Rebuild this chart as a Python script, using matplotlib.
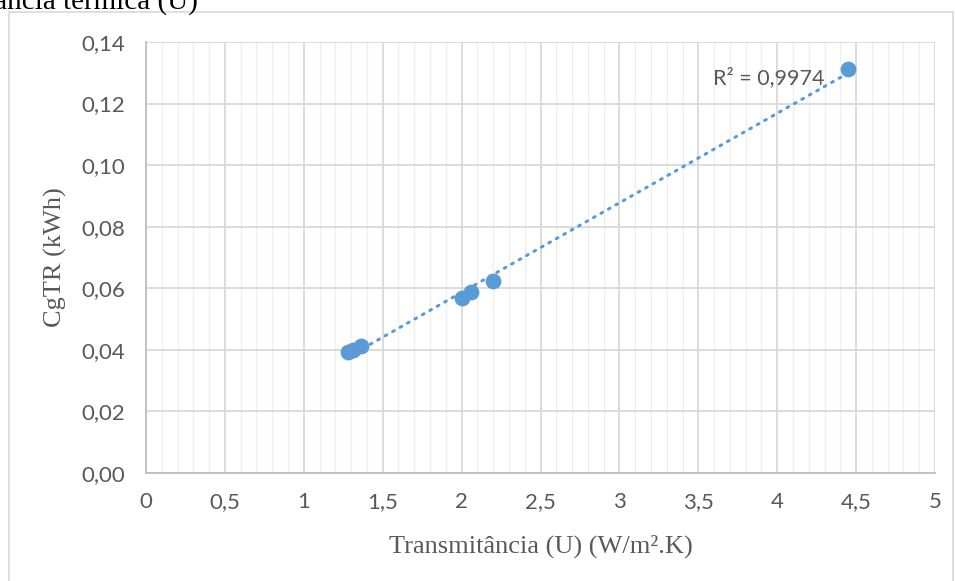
import matplotlib.pyplot as plt
from matplotlib.patches import Rectangle
from matplotlib.ticker import MultipleLocator, FuncFormatter
import numpy as np

# transmitância (U) x CgTR
u_values = [1.28, 1.31, 1.36, 2.00, 2.06, 2.20, 4.45]
cgtr_values = [0.0392, 0.0400, 0.0413, 0.0568, 0.0588, 0.0624, 0.1313]
r2_label = "R² = 0,9974"

blue = "#5b9bd5"
tick_grey = "#595959"

fig = plt.figure(figsize=(9.55, 5.81), dpi=100)
ax = fig.add_axes([146 / 955, 1 - 473 / 581, (935 - 146) / 955, (473 - 42) / 581])

# moldura do gráfico
fig.patches.append(Rectangle((9 / 955, -0.05), (953 - 9) / 955, 1 - 12 / 581 + 0.05,
                             transform=fig.transFigure, fill=False,
                             edgecolor="#d9d9d9", linewidth=1.2))

# título cortado acima do gráfico
fig.text(198 / 955, 1 - 9 / 581, "transmitância térmica (U)", ha="right", va="baseline",
         family="Liberation Serif", fontsize=21, color="black")

ax.scatter(u_values, cgtr_values, s=130, color=blue, zorder=4, linewidths=0)

# linha de tendência linear
coef = np.polyfit(u_values, cgtr_values, 1)
xs = np.array([min(u_values), max(u_values)])
ax.plot(xs, np.polyval(coef, xs), color=blue, linewidth=2.2,
        linestyle=(0, (0.6, 2.2)), dash_capstyle="round", zorder=3)
ax.text(3.59, 0.1283, r2_label, fontsize=15.5, color=tick_grey, family="Lato",
        ha="left", va="center")

ax.set_xlim(0, 5)
ax.set_ylim(0, 0.14)
ax.xaxis.set_major_locator(MultipleLocator(0.5))
ax.xaxis.set_minor_locator(MultipleLocator(0.1))
ax.yaxis.set_major_locator(MultipleLocator(0.02))
ax.xaxis.set_major_formatter(FuncFormatter(lambda v, p: f"{v:g}".replace(".", ",")))
ax.yaxis.set_major_formatter(FuncFormatter(lambda v, p: f"{v:.2f}".replace(".", ",")))

ax.grid(which="major", color="#d9d9d9", linewidth=1.3)
ax.grid(which="minor", axis="x", color="#efefef", linewidth=1.0)
ax.set_axisbelow(True)
for side in ["top", "right"]:
    ax.spines[side].set_visible(False)
for side in ["left", "bottom"]:
    ax.spines[side].set_color("#bfbfbf")
    ax.spines[side].set_linewidth(1.3)

ax.tick_params(which="both", length=0)
ax.tick_params(axis="y", pad=15, labelsize=16, labelcolor=tick_grey)
ax.tick_params(axis="x", pad=14, labelsize=16, labelcolor=tick_grey)
for lab in ax.get_xticklabels() + ax.get_yticklabels():
    lab.set_family("Lato")

ax.set_xlabel("Transmitância (U) (W/m².K)", family="Liberation Serif", fontsize=19,
              color=tick_grey, labelpad=16)
ax.set_ylabel("CgTR (kWh)", family="Liberation Serif", fontsize=19,
              color=tick_grey, labelpad=10)

fig.savefig("out.png", dpi=100)
